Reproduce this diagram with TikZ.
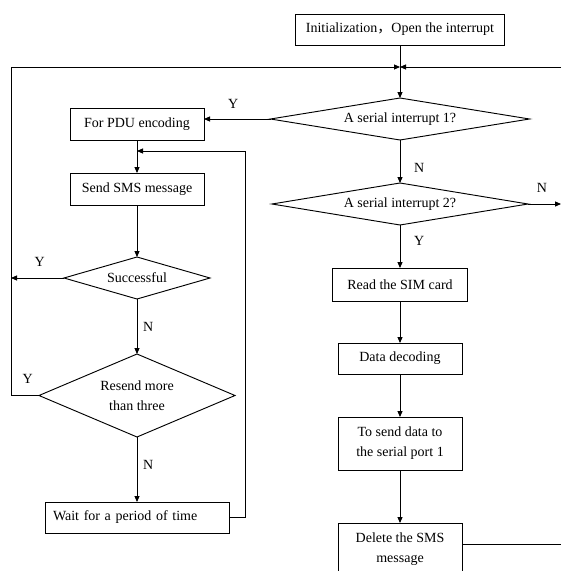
\documentclass[tikz,border=0pt]{standalone}
\usepackage{fontspec}
\setmainfont{Liberation Serif}
\newfontfamily\cjkfont{Noto Sans CJK SC}
\usepackage{tikz}
\usetikzlibrary{arrows.meta, positioning, shapes.geometric, calc}

\begin{document}
\begin{tikzpicture}[
    x=0.75pt, y=-0.75pt,
    every node/.style={font=\fontsize{10.5}{15}\selectfont},
    proc/.style={draw, line width=0.7pt, inner sep=2pt, outer sep=0pt, align=center},
    cond/.style={draw, diamond, line width=0.7pt, inner sep=0pt, outer sep=0pt, align=center},
    ln/.style={line width=0.7pt},
    arr/.style={ln, -{Triangle[length=4.5pt, width=3.8pt]}},
]
\useasboundingbox (0,0) rectangle (561,571);

% main loop (right column)
\node[proc, minimum width=156.75pt, minimum height=23.25pt] (init) at (400,29.5) {Initialization{\cjkfont ，}Open the interrupt};
\node[cond, aspect=6, minimum width=194.25pt, minimum height=31.5pt, below=39.75pt of init] (int1) {A serial interrupt 1?};
\node[cond, aspect=6, minimum width=192pt, minimum height=31.5pt, below=32.25pt of int1] (int2) {A serial interrupt 2?};
\node[proc, minimum width=101.25pt, minimum height=24.75pt, below=32.25pt of int2] (sim) {Read the SIM card};
\node[proc, minimum width=93pt, minimum height=23.25pt, below=31.5pt of sim] (decode) {Data decoding};
\node[proc, minimum width=93pt, minimum height=39.75pt, below=32.25pt of decode] (tx) {To send data to\\the serial port 1};
\node[proc, minimum width=93pt, minimum height=39.75pt, below=39.75pt of tx] (del) {Delete the SMS\\message};

% sending branch (left column)
\node[proc, minimum width=100.5pt, minimum height=24pt] (pdu) at (137,124) {For PDU encoding};
\node[proc, minimum width=100.5pt, minimum height=24pt, below=24.75pt of pdu] (sms) {Send SMS message};
\node[cond, aspect=3.5, minimum width=109.5pt, minimum height=31.5pt, below=39pt of sms] (ok) {Successful};
\node[cond, aspect=2.4, minimum width=147pt, minimum height=62.25pt, below=41.25pt of ok] (retry) {Resend more\\than three};
\node[proc, minimum width=138pt, minimum height=23.25pt, text width=126pt, align=left,
      below=48.75pt of retry] (wait) {Wait for a period of time};

% loop points
\coordinate (ltop) at (11,67);
\coordinate (rtop) at (561,67);
\coordinate (join) at (400,67);
\coordinate (back) at (137,151);

\draw[arr] (init) -- (int1);
\draw[arr] (rtop) -- (join);
\draw[arr] (retry.west) -| node[pos=0.2, above=5pt] (yretry) {Y} (ltop) -- (join);

\draw[arr] (int1.west) -- node[pos=0.56, above=4.5pt] (yint1) {Y} (int1.west -| pdu.east);
\draw[arr] (int1) -- node[pos=0.65, right=7pt] (nint1) {N} (int2);
\draw[arr] (int2.east) -- node[pos=0.42, above=5pt] (nint2) {N} (int2.east -| rtop);
\draw[arr] (int2) -- node[pos=0.37, right=7pt] (yint2) {Y} (sim);
\draw[arr] (sim) -- (decode);
\draw[arr] (decode) -- (tx);
\draw[arr] (tx) -- (del);
\draw[ln] ([yshift=4pt]del.east) -- ([yshift=4pt]del.east -| rtop);

\draw[arr] (pdu) -- (sms);
\draw[arr] (sms) -- (ok);
\draw[arr] (ok.west) -- node[pos=0.46, above=5pt] (yok) {Y} (ok.west -| ltop);
\draw[arr] (ok) -- node[pos=0.51, right=1pt] (nok) {N} (retry);
\draw[arr] (retry) -- node[pos=0.43, right=1pt] (nretry) {N} (wait);
\draw[arr] (wait.east) -| (245,151) -- (back);
\end{tikzpicture}
\end{document}
